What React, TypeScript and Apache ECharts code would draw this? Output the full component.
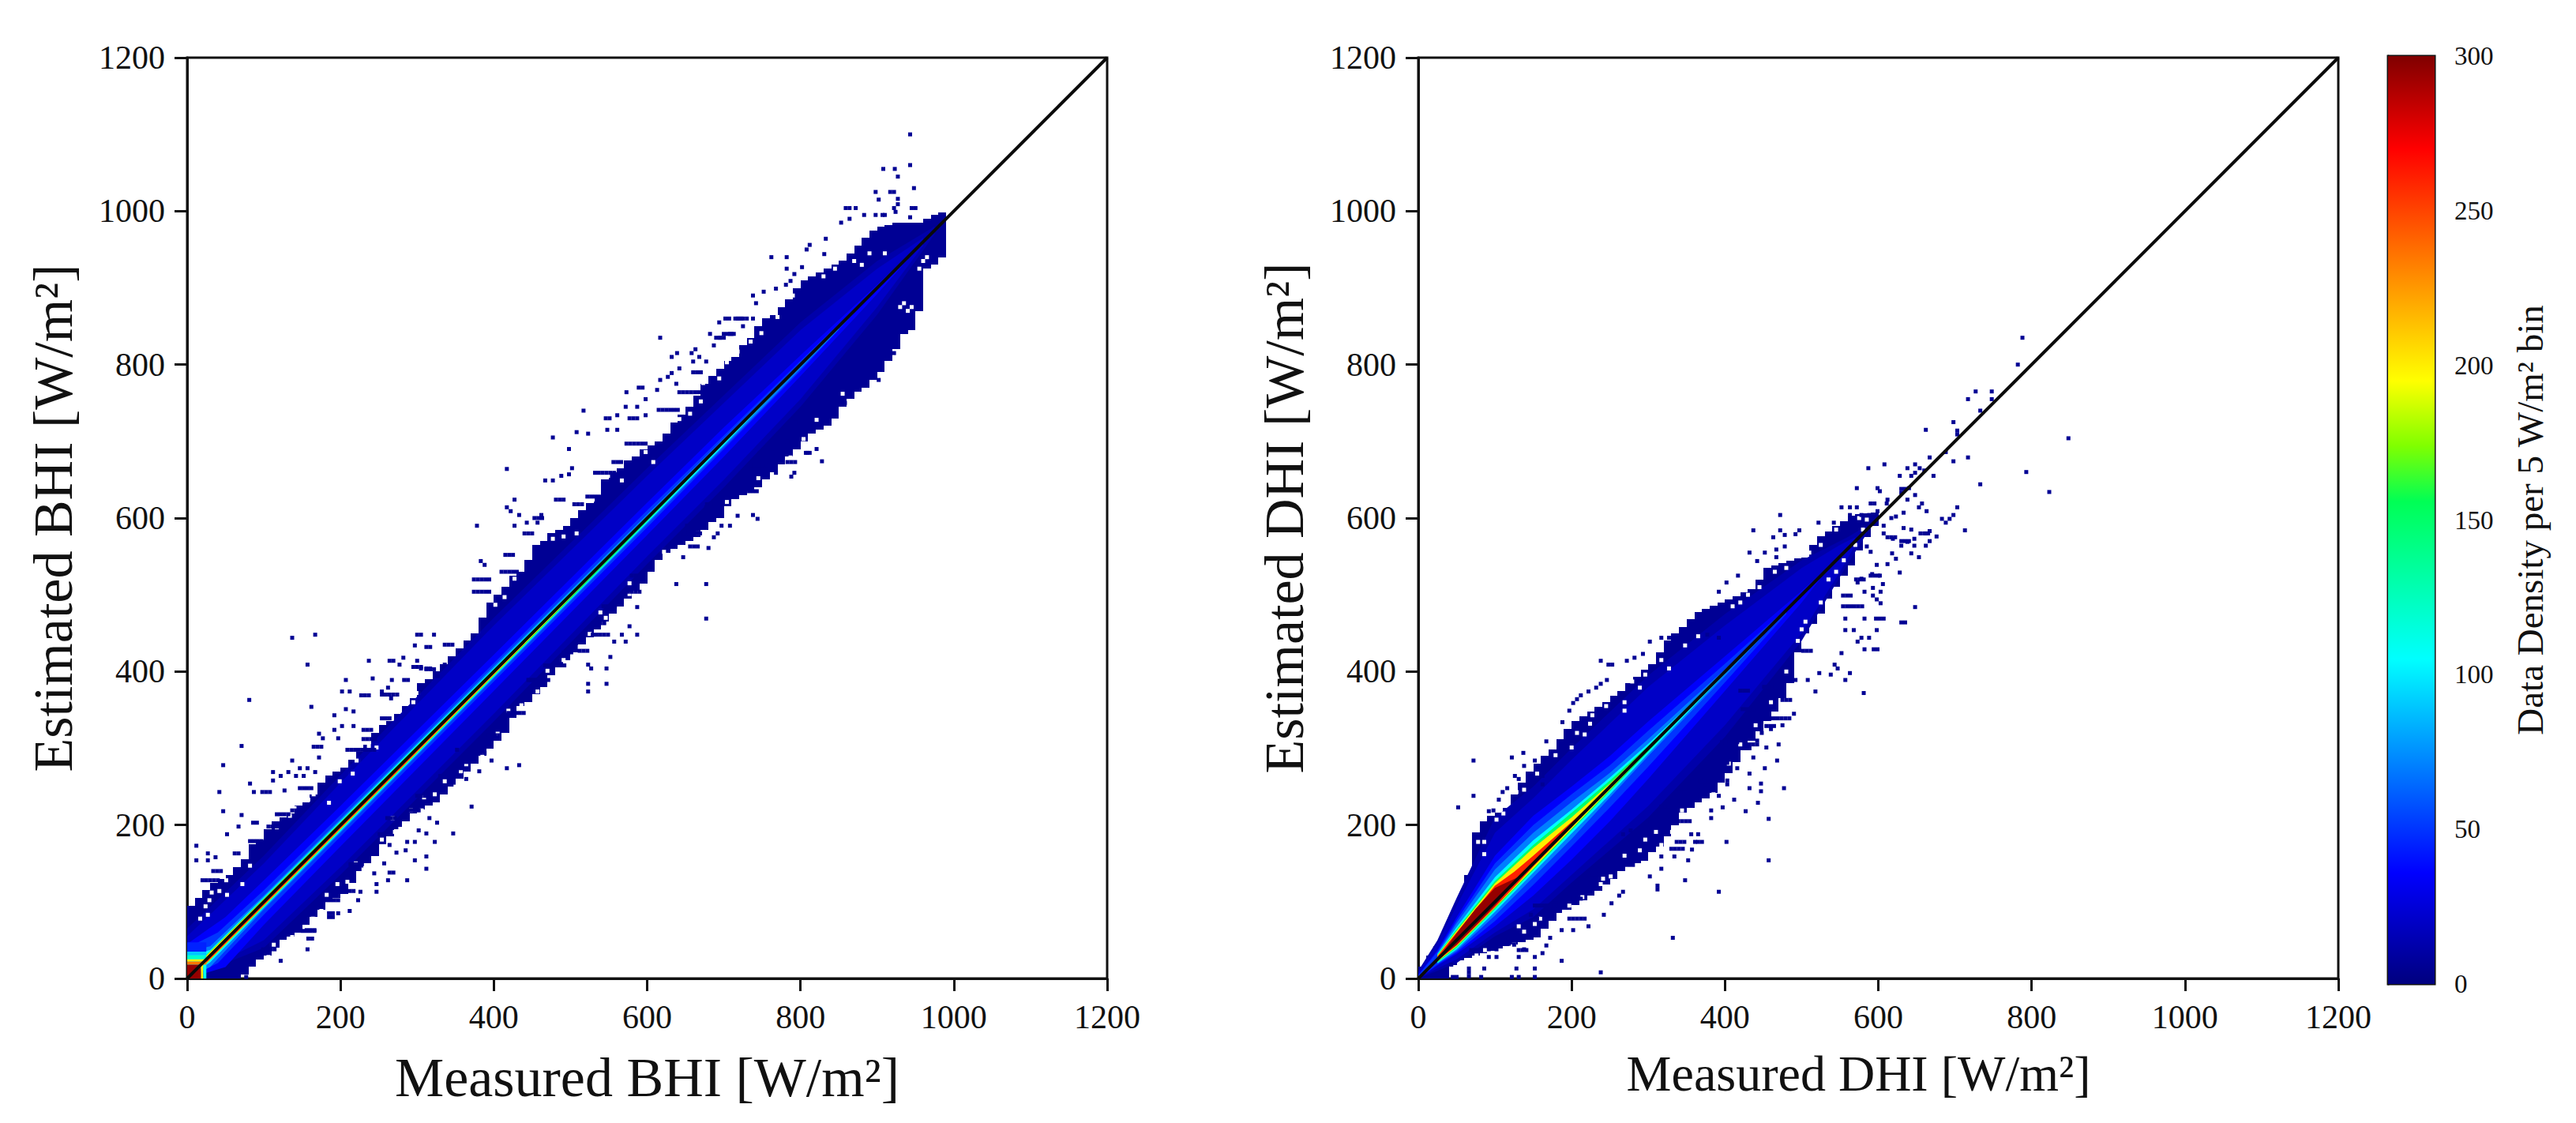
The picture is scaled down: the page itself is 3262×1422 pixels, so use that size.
import React, { useEffect, useRef } from "react";
import * as echarts from "echarts";

const FONT = "Liberation Serif";
const axisTicks = [0, 200, 400, 600, 800, 1000, 1200];
const diagonal = [[0, 0], [1200, 1200]];
const BIN = 10;
const CELL = 5;

// solid body of each cloud: one value per 10 W/m2 column
const bhiUpper = [95,105,115,125,130,135,145,155,175,180,195,205,210,215,225,230,240,255,265,270,275,285,295,305,320,330,335,345,355,365,385,390,400,410,420,430,440,450,470,490,500,510,525,530,545,565,570,580,585,590,600,610,620,630,650,660,665,675,680,690,695,700,710,725,735,745,760,775,785,795,805,810,825,835,850,860,865,875,885,900,910,915,920,925,930,935,945,955,965,975,980,982,985,985,985,985,990,995,998];
const bhiLower = [0,0,0,0,0,0,0,5,15,25,30,40,50,55,60,70,80,90,100,105,110,125,140,150,160,175,185,195,205,215,220,225,230,240,250,260,270,280,290,300,310,320,340,355,360,370,380,395,405,415,425,435,445,455,465,475,485,495,505,515,530,545,555,560,565,570,575,585,595,600,615,625,630,635,640,650,660,670,680,690,700,710,715,720,730,745,755,765,770,780,790,805,820,840,845,870,925,930,940];
const dhiUpper = [15,30,42,55,75,105,135,190,205,212,216,222,240,255,270,280,290,298,312,325,335,342,348,354,360,368,375,385,393,402,410,425,440,450,458,468,478,482,486,490,494,498,503,507,520,535,538,541,544,547,549,565,576,583,590,596,603,605,606,607];
const dhiLower = [0,0,0,0,18,24,27,30,33,36,39,42,44,47,50,54,65,75,85,90,96,102,108,114,122,130,140,146,150,153,165,172,185,200,216,222,229,235,242,255,268,282,297,310,322,336,348,365,385,425,450,462,475,495,510,525,538,558,575,590];

// isolated 5 W/m2 cells outside the solid body [measured, estimated]
const bhiFringe = [
  [137,444],[167,448],[157,409],[81,363],[71,303],[47,278],[162,354],[42,243],[82,254],[47,218],[12,173],[12,154],[52,188],[67,198],[71,213],[27,163],[27,154],[37,158],[98,243],[103,243],[108,243],[87,243],[127,245],[112,269],[112,258],[122,264],[132,269],[137,284],[142,264],[147,274],[157,274],[167,269],[152,264],[172,319],[177,313],[165,302],[170,302],[175,302],[172,288],[192,343],[192,324],[202,329],[217,329],[197,313],[202,374],[212,374],[207,389],[207,351],[217,348],[237,414],[264,414],[269,414],[282,418],[277,409],[242,391],[267,389],[283,389],[227,369],[232,369],[237,369],[262,379],[254,374],[266,365],[288,389],[300,414],[305,404],[312,404],[317,404],[336,409],[327,394],[297,434],[300,448],[305,448],[322,448],
  [371,224],[347,189],[323,178],[312,189],[302,193],[312,159],[312,143],[297,154],[297,178],[287,178],[287,128],[269,138],[264,138],[262,128],[247,123],[247,113],[226,113],[223,102],[212,88],[197,85],[185,80],[190,80],[185,85],[190,85],[157,38],[161,63],[166,63],[156,63],[158,52],[163,52],[122,23],[77,2],[417,274],[433,278],[397,284],[381,270],[364,260],[352,298],[326,203],[316,209],[264,174],[273,164],[285,167],[257,150],[244,137],
  [617,835],[417,664],[517,740],[477,705],[508,712],[523,710],[498,690],[467,649],[477,649],[488,655],[498,657],[502,665],[427,624],[417,614],[422,609],[433,604],[427,590],[378,590],[383,544],[388,539],[443,594],[462,604],[457,594],[573,764],[594,770],[589,770],[613,767],[638,775],[632,810],[639,815],[642,795],[632,789],[627,784],[617,780],[572,745],[598,755],[587,745],[546,730],[551,730],[577,730],[582,730],[587,730],[598,734],[548,715],[561,734],[561,715],[663,820],[658,815],[668,810],[660,804],[677,804],[682,840],[694,855],[702,860],[707,860],[718,860],[723,860],[738,860],[708,840],[713,840],[695,835],[725,850],[687,825],
  [677,514],[677,469],[638,514],[587,484],[587,448],[577,459],[572,439],[567,448],[557,439],[552,419],[547,404],[547,384],[523,384],[523,374],[527,404],[523,409],[647,549],[680,561],[652,590],[647,580],[677,614],[683,619],[744,599],[738,604],[718,603],[708,590],[697,590],[687,575],[692,580],[768,659],[788,654],[792,659],[828,674],[821,690],[809,685],[763,685],[747,685],[793,725],[783,700],
  [943,1100],[943,1060],[908,1055],[923,1055],[927,1045],[948,1030],[898,1025],[917,1025],[922,1025],[902,1015],[927,1016],[927,1009],[922,1004],[945,1004],[950,1004],[859,1004],[864,1004],[872,1004],[762,940],[782,940],[782,925],[802,927],[808,950],[812,956],[833,964],[853,985],[883,995],[898,995],[864,990],[907,995],[924,999],[910,995],[943,992],[831,944],[792,918],[787,909],[781,904],[768,899],[752,895],[738,890],[742,880],[855,750],[914,810],[922,815],[902,780],
];
const dhiFringe = [
  [72,284],[72,238],[52,223],[122,288],[137,294],[92,218],[167,309],[152,284],[138,277],[162,264],[162,253],[126,264],[131,260],[116,248],[110,243],[105,233],[98,219],[188,334],[238,414],[248,409],[253,409],[246,389],[238,384],[232,379],[222,374],[212,369],[207,364],[202,359],[197,349],[293,423],[282,418],[272,414],[302,439],[317,444],[327,444],[343,449],[377,448],[392,444],
  [238,8],[187,23],[152,13],[152,28],[162,33],[167,43],[172,53],[187,63],[202,63],[222,68],[242,83],[252,98],[262,108],[267,113],[332,53],[348,128],[312,116],[312,121],[392,113],[302,133],[402,178],[457,154],[457,208],[427,218],[443,229],[412,233],[397,223],[477,248],[432,248],[447,254],[447,244],[403,253],[403,258],[392,238],[352,154],[357,168],[317,143],[298,203],[277,193],[267,188],[128,13],[122,2],[131,2],[152,2],[86,13],[82,2],[66,13],[66,8],[66,3],[45,2],[50,2],[43,18],[92,28],[102,28],[92,38],[102,38],[131,28],[138,38],[125,44],[147,83],[155,78],[162,83],[171,93],[179,98],[365,188],[365,178],[370,178],[356,188],[334,159],[317,159],
  [427,315],[437,288],[454,301],[468,284],[403,281],[416,274],[432,267],[452,274],[392,269],[375,253],[368,240],[382,219],[382,209],[361,178],[432,300],[442,310],[460,325],[475,330],[490,345],[470,305],[448,320],
  [788,835],[782,800],[727,765],[748,765],[717,755],[748,755],[733,740],[698,725],[662,715],[703,714],[703,709],[848,704],[717,679],[698,674],[667,679],[688,686],[793,660],[733,644],[823,634],[608,670],[587,665],[648,670],[638,665],[654,665],[660,662],[628,655],[643,655],[648,659],[672,655],[572,639],[599,639],[602,635],[630,638],[635,638],[640,639],[630,633],[648,630],[638,624],[657,619],[653,614],[663,609],[703,614],[698,604],[683,599],[693,599],[688,594],[713,584],[552,614],[563,614],[572,614],[590,619],[595,619],[611,619],[612,624],[472,604],[437,584],[472,584],[497,584],[492,579],[463,575],[478,578],[478,563],[432,555],[452,555],[467,559],[467,549],[442,544],[417,525],[402,516],[392,504],
  [522,594],[542,594],[563,604],[563,594],[578,604],[588,604],[599,609],[617,600],[623,602],[633,607],[633,587],[643,585],[607,590],[607,580],[619,573],[630,564],[638,569],[647,573],[647,564],[667,583],[662,580],[667,570],[662,564],[676,576],[618,554],[623,547],[643,554],[653,549],[628,529],[612,540],[598,539],[585,563],[590,556],[592,527],[602,525],[578,521],[573,516],[606,514],[593,509],[582,504],[603,504],[593,499],[598,494],[603,489],[648,484],[607,469],[602,469],[597,469],[630,464],[635,464],[557,469],[582,469],[557,454],[568,454],[598,454],[578,444],[588,444],[573,439],[582,429],[594,429],[599,429],[552,424],[543,409],[547,404],[563,398],[538,396],[557,389],[523,398],[508,389],[492,389],[518,374],[581,372],
];

// horizontal runs of occupied cells in the lace around the body [x start, x end, estimated]
const bhiRuns = [
  [20,41,128],[34,44,140],[62,68,163],[82,99,179],[86,94,203],[106,124,198],[117,134,214],[137,147,219],[147,165,248],[209,244,298],[230,247,312],[230,244,324],[254,275,370],[254,268,339],[295,309,406],[312,326,403],[312,319,432],[336,350,435],
  [99,116,38],[151,168,62],[182,199,102],[202,220,114],[213,230,149],[251,264,188],[261,275,209],[292,306,219],[300,312,238],[330,344,264],[357,371,274],[378,388,294],[392,408,317],[419,440,346],[446,474,389],
  [374,395,504],[374,395,520],[410,431,530],[415,429,552],[440,453,580],[453,463,600],[481,494,624],[505,518,618],[522,539,628],[532,560,659],[556,570,673],[573,601,697],[615,642,741],[642,670,764],[660,673,790],[690,704,835],[700,714,840],[715,731,860],
  [445,463,389],[467,494,408],[491,501,425],[512,525,427],[529,549,448],[529,546,463],[543,560,485],[580,598,525],[570,594,504],[649,670,580],[656,670,563],[678,694,618],[728,745,635],[735,745,665],[735,759,669],[783,797,673],[807,814,685],[848,862,750],
];
const dhiRuns = [
  [396,420,308],[427,444,305],[423,440,351],[454,485,339],[454,468,329],[420,430,375],[451,468,380],[475,488,363],[368,382,257],[337,351,243],[317,331,224],[334,354,205],[337,351,178],[330,348,169],[265,282,148],[227,244,136],[197,214,104],[197,220,78],[152,179,95],[117,131,52],[69,83,37],[131,145,37],
  [502,513,427],[554,580,485],[554,568,499],[571,585,520],[655,667,580],[630,640,570],[612,623,575],[590,604,525],
];

// empty 5 W/m2 cells that break up the rim of the solid body [measured, estimated]
const bhiHoles = [
  [24,94],[29,102],[17,78],[27,83],[32,112],[42,114],[52,109],[44,136],[51,128],[72,123],[61,150],[82,147],[117,197],[134,212],[140,222],[158,233],[165,240],[185,229],[199,257],[216,267],[221,284],[209,298],[247,301],[223,312],[237,303],[216,308],[242,327],[257,339],[263,353],[257,360],[295,360],[299,372],[264,343],[302,411],[319,418],[326,435],[340,432],[350,446],
  [106,28],[113,44],[137,54],[137,49],[144,57],[164,78],[175,88],[192,92],[182,109],[196,123],[209,126],[220,150],[230,142],[254,181],[257,160],[271,191],[278,195],[268,209],[292,219],[306,219],[309,236],[323,240],[336,257],[350,250],[357,270],[364,277],[385,291],[405,319],[419,349],[436,356],[457,374],
  [402,487],[384,508],[414,497],[395,530],[436,542],[443,556],[427,521],[457,573],[477,573],[491,576],[494,604],[508,580],[518,631],[529,624],[549,655],[553,669],[567,649],[577,679],[598,686],[608,673],[625,728],[642,729],[656,736],[625,748],[670,752],[673,776],[694,782],[704,803],[718,817],[735,830],[749,841],
  [855,762],[821,728],[804,703],[787,679],[763,652],[745,652],[738,624],[704,621],[718,611],[666,580],[683,580],[622,556],[632,535],[608,525],[577,515],[577,501],[539,477],[546,470],[553,453],[525,449],[512,432],[491,415],[470,401],
  [935,880],[940,870],[945,875],[930,875],[955,925],[960,935],[965,940],[870,935],[880,930],[890,945],[910,945],[830,915],[845,925],[770,862],[790,890],
];
const dhiHoles = [
  [78,178],[86,178],[86,162],[102,207],[111,215],[128,243],[138,246],[155,267],[179,291],[200,301],[207,320],[217,318],[224,332],[245,355],[227,343],[269,360],[269,349],[289,379],[279,387],[296,396],[317,415],[327,404],[348,434],[365,446],
  [385,240],[365,226],[344,219],[331,191],[310,191],[296,181],[289,167],[303,157],[317,174],[269,160],[241,130],[238,123],[251,133],[214,106],[221,88],[197,95],[190,87],[179,71],[159,78],[152,71],[138,61],[131,68],[125,44],[121,40],[87,37],[76,30],[97,33],
  [410,485],[430,500],[420,490],[445,510],[465,530],[480,535],[510,555],[525,565],[545,585],[575,600],[585,598],[500,455],[505,465],[525,490],[535,520],[545,530],[555,545],[570,565],[580,585],[495,440],[480,400],[460,360],[440,330],[420,305],[405,280],
];

// density levels and their band, as [measured, offset below the 1:1 line, offset above it]
const densityLevels = [12, 20, 35, 50, 70, 105, 150, 200, 260];
const bhiBands = [
  [[0,-65,65],[100,-60,60],[200,-65,65],[400,-65,70],[600,-60,65],[700,-60,60],[800,-55,55],[900,-35,35],[975,-5,5]],
  [[0,-55,55],[100,-50,50],[200,-55,55],[400,-55,60],[600,-50,55],[700,-50,50],[800,-45,45],[900,-25,25],[960,-5,5]],
  [[0,-40,45],[50,-35,30],[100,-30,28],[200,-28,25],[400,-25,22],[600,-22,20],[700,-20,18],[800,-15,12],[900,-8,4],[940,-3,2]],
  [[0,-28,40],[40,-20,20],[100,-17,15],[200,-15,13],[400,-13,11],[600,-12,10],[800,-8,5],[870,-3,2]],
  [[0,-22,35],[30,-15,12],[100,-10,8],[200,-10,8],[400,-9,7],[600,-8,5],[750,-7,3],[850,-4,2]],
  [[0,-16,30],[30,-9,7],[100,-8,6],[200,-8,5.5],[400,-7,4.5],[600,-6,3],[700,-5,2],[790,-2,1]],
  [[20,-6,6],[100,-6.5,4.5],[300,-6.5,3.5],[500,-5.5,2],[620,-4,2],[680,-2,1]],
  [[20,-5.5,5],[100,-5.5,3.5],[300,-5.5,2.5],[480,-4,1.5],[560,-2,1]],
  [[20,-4.5,1.5],[100,-4.5,1],[300,-4.5,1],[440,-3,1]],
];
const dhiBands = [
  [[0,-6,10],[25,-15,25],[50,-30,55],[100,-45,110],[150,-70,100],[200,-75,100],[300,-90,95],[400,-85,75],[500,-60,45],[560,-20,15],[585,-5,5]],
  [[0,-5,8],[25,-12,20],[50,-25,45],[100,-40,90],[150,-60,85],[200,-65,85],[300,-75,80],[400,-70,60],[500,-50,35],[550,-20,15],[570,-5,5]],
  [[0,-3,5],[25,-8,12],[50,-18,30],[100,-32,60],[150,-42,62],[200,-45,50],[250,-45,40],[300,-40,35],[400,-25,20],[500,-10,5],[530,-2,2]],
  [[0,-2,4],[25,-7,10],[50,-16,26],[100,-25,50],[150,-28,50],[200,-28,40],[250,-27,28],[300,-24,23],[400,-14,10],[480,-5,2]],
  [[25,-6,8],[50,-14,22],[100,-18,42],[150,-18,40],[200,-18,30],[250,-14,18],[300,-10,12],[350,-8,8],[400,-6,3],[450,-3,1]],
  [[25,-5,7],[50,-12,17],[100,-13,32],[150,-12,30],[200,-11,20],[250,-10,12],[300,-7,6],[350,-5,3],[400,-3,1]],
  [[25,-4,6],[50,-10,14],[100,-10,27],[150,-9,24],[200,-7,16],[250,-6,8],[300,-4,3],[350,-2,1]],
  [[25,-3,5],[50,-8,12],[100,-8,24],[150,-7,20],[200,-5,10],[250,-4,4],[300,-2,2]],
  [[25,-2,4],[50,-7,10],[100,-7,21],[125,-6,14],[150,-4,10],[200,-3,4],[230,-1,1]],
];
const dhiCore = [[30,-2,2],[50,-6,9],[75,-6,16],[100,-5,18],[115,-3,10],[130,-1,2]];
const coreDensity = 295;

// the pile-up beside the origin of the BHI panel: [x0, x1, y0, y1, density]
const bhiCorner = [
  [0,25,35,47,45],[0,25,30,35,90],[0,25,25,30,120],[0,25,22,25,200],[0,25,18,22,235],[0,18,0,18,295],[18,21,0,18,200],[21,25,0,18,110],
];

const jetStops: [number, string][] = [[0,"#00007f"],[0.12,"#0000ff"],[0.35,"#00ffff"],[0.52,"#00ff55"],[0.58,"#80ff00"],[0.65,"#ffff00"],[0.9,"#ff0000"],[1,"#800000"]];
const envelopeDensity = 6;

function hex(c: string) { return [1, 3, 5].map((i) => parseInt(c.slice(i, i + 2), 16)); }
function jet(v: number) {
  const t = Math.min(1, Math.max(0, v / 300));
  for (let i = 1; i < jetStops.length; i++) {
    if (t <= jetStops[i][0]) {
      const [a, ca] = jetStops[i - 1];
      const [b, cb] = jetStops[i];
      const k = (t - a) / (b - a);
      const A = hex(ca), B = hex(cb);
      return `rgb(${A.map((x, j) => Math.round(x + (B[j] - x) * k)).join(",")})`;
    }
  }
  return "#800000";
}

function expandRuns(runs: number[][]) {
  const cells: number[][] = [];
  runs.forEach(([a, b, y]) => {
    for (let x = a; x <= b; x += CELL) cells.push([x, y]);
  });
  return cells;
}

function columnSeries(upper: number[], lower: number[], axis: number) {
  return {
    type: "custom", xAxisIndex: axis, yAxisIndex: axis, silent: true, clip: true,
    data: upper.map((u, i) => [i * BIN, lower[i], u]),
    encode: { x: 0, y: [1, 2] },
    renderItem: (_: any, api: any) => {
      const a = api.coord([api.value(0), api.value(2)]);
      const b = api.coord([api.value(0) + BIN, api.value(1)]);
      const x = Math.round(a[0]), y = Math.round(a[1]);
      return { type: "rect", shape: { x, y, width: Math.round(b[0]) - x, height: Math.round(b[1]) - y }, style: { fill: jet(envelopeDensity) } };
    },
  };
}

function bandSeries(band: number[][], density: number, axis: number) {
  return {
    type: "custom", xAxisIndex: axis, yAxisIndex: axis, silent: true, clip: true,
    data: band,
    encode: { x: 0, y: 1 },
    renderItem: (p: any, api: any) => {
      if (p.dataIndex !== 0) return null;
      const top = band.map((r) => api.coord([r[0], r[0] + r[2]]));
      const bot = band.map((r) => api.coord([r[0], Math.max(0, r[0] + r[1])])).reverse();
      return { type: "polygon", shape: { points: [...top, ...bot] }, style: { fill: jet(density) } };
    },
  };
}

function cornerSeries(cells: number[][], axis: number) {
  return {
    type: "custom", xAxisIndex: axis, yAxisIndex: axis, silent: true, clip: true,
    data: cells,
    encode: { x: [0, 1], y: [2, 3] },
    renderItem: (_: any, api: any) => {
      const a = api.coord([api.value(0), api.value(3)]);
      const b = api.coord([api.value(1), api.value(2)]);
      return { type: "rect", shape: { x: a[0], y: a[1], width: b[0] - a[0], height: b[1] - a[1] }, style: { fill: jet(api.value(4)) } };
    },
  };
}

function cellSeries(cells: number[][], color: string, axis: number) {
  return { type: "scatter", xAxisIndex: axis, yAxisIndex: axis, silent: true, symbol: "rect", symbolSize: 5, data: cells, itemStyle: { color, opacity: 1 } };
}

function panelSeries(upper: number[], lower: number[], fringe: number[][], runs: number[][], holes: number[][], bands: number[][][], axis: number) {
  return [
    columnSeries(upper, lower, axis),
    cellSeries(holes, "#ffffff", axis),
    cellSeries([...fringe, ...expandRuns(runs)], jet(envelopeDensity), axis),
    ...bands.map((b, i) => bandSeries(b, densityLevels[i], axis)),
  ];
}

function diagonalSeries(axis: number) {
  return { type: "line", xAxisIndex: axis, yAxisIndex: axis, silent: true, showSymbol: false, data: diagonal, lineStyle: { color: "#0a0a0a", width: 4 } };
}

function valueAxis(name: string, gridIndex: number, gap: number, fontSize: number, padding: number[]) {
  return {
    type: "value", gridIndex, min: axisTicks[0], max: axisTicks[axisTicks.length - 1], interval: 200,
    name, nameLocation: "middle", nameGap: gap,
    nameTextStyle: { fontFamily: FONT, fontSize, color: "#111", padding },
    axisLine: { show: true, onZero: false, lineStyle: { color: "#111", width: 3 } },
    axisTick: { show: true, length: 16, lineStyle: { color: "#111", width: 3 } },
    axisLabel: { show: true, fontFamily: FONT, fontSize: 42, color: "#111", margin: 28, formatter: (v: number) => String(v) },
    splitLine: { show: false },
  };
}

export default function App() {
  const ref = useRef<HTMLDivElement>(null);
  useEffect(() => {
    document.body.style.margin = "0";
    const chart = echarts.init(ref.current!, undefined, { renderer: "svg" });
    chart.setOption({
      animation: false,
      backgroundColor: "#ffffff",
      grid: [
        { left: 237, top: 73, width: 1165, height: 1166, show: true, borderColor: "#111", borderWidth: 3, backgroundColor: "#fff", outerBoundsMode: "none" },
        { left: 1796, top: 73, width: 1165, height: 1166, show: true, borderColor: "#111", borderWidth: 3, backgroundColor: "#fff", outerBoundsMode: "none" },
        { left: 3024, top: 71, width: 59, height: 1175, show: true, borderColor: "#111", borderWidth: 3, outerBoundsMode: "none" },
      ],
      xAxis: [
        valueAxis("Measured BHI [W/m²]", 0, 90, 70, [0, 0, 0, 0]),
        valueAxis("Measured DHI [W/m²]", 1, 88, 64, [0, 50, 0, 0]),
        { type: "value", gridIndex: 2, min: 0, max: 1, show: false },
      ],
      yAxis: [
        valueAxis("Estimated BHI [W/m²]", 0, 123, 70, [0, 0, 12, 0]),
        valueAxis("Estimated DHI [W/m²]", 1, 123, 70, [0, 0, 12, 0]),
        {
          type: "value", gridIndex: 2, min: 0, max: 300, interval: 50, position: "right",
          name: "Data Density per 5 W/m² bin", nameLocation: "middle", nameGap: 97, nameRotate: 90,
          nameTextStyle: { fontFamily: FONT, fontSize: 47, color: "#111" },
          axisLine: { show: true, lineStyle: { color: "#111", width: 3 } },
          axisTick: { show: true, length: 12, lineStyle: { color: "#111", width: 2 } },
          axisLabel: { fontFamily: FONT, fontSize: 33, color: "#111", margin: 25 },
          splitLine: { show: false },
        },
      ],
      series: [
        ...panelSeries(bhiUpper, bhiLower, bhiFringe, bhiRuns, bhiHoles, bhiBands, 0),
        cornerSeries(bhiCorner, 0),
        diagonalSeries(0),
        ...panelSeries(dhiUpper, dhiLower, dhiFringe, dhiRuns, dhiHoles, dhiBands, 1),
        bandSeries(dhiCore, coreDensity, 1),
        diagonalSeries(1),
        {
          type: "custom", xAxisIndex: 2, yAxisIndex: 2, silent: true,
          data: [[0, 0, 1, 300]],
          encode: { x: [0, 2], y: [1, 3] },
          renderItem: (_: any, api: any) => {
            const a = api.coord([0, 300]);
            const b = api.coord([1, 0]);
            return {
              type: "rect", shape: { x: a[0], y: a[1], width: b[0] - a[0], height: b[1] - a[1] },
              style: { fill: new echarts.graphic.LinearGradient(0, 1, 0, 0, jetStops.map(([offset, color]) => ({ offset, color }))) },
            };
          },
        },
      ],
    });
    return () => chart.dispose();
  }, []);
  return <div ref={ref} style={{ width: 3262, height: 1422 }} />;
}
